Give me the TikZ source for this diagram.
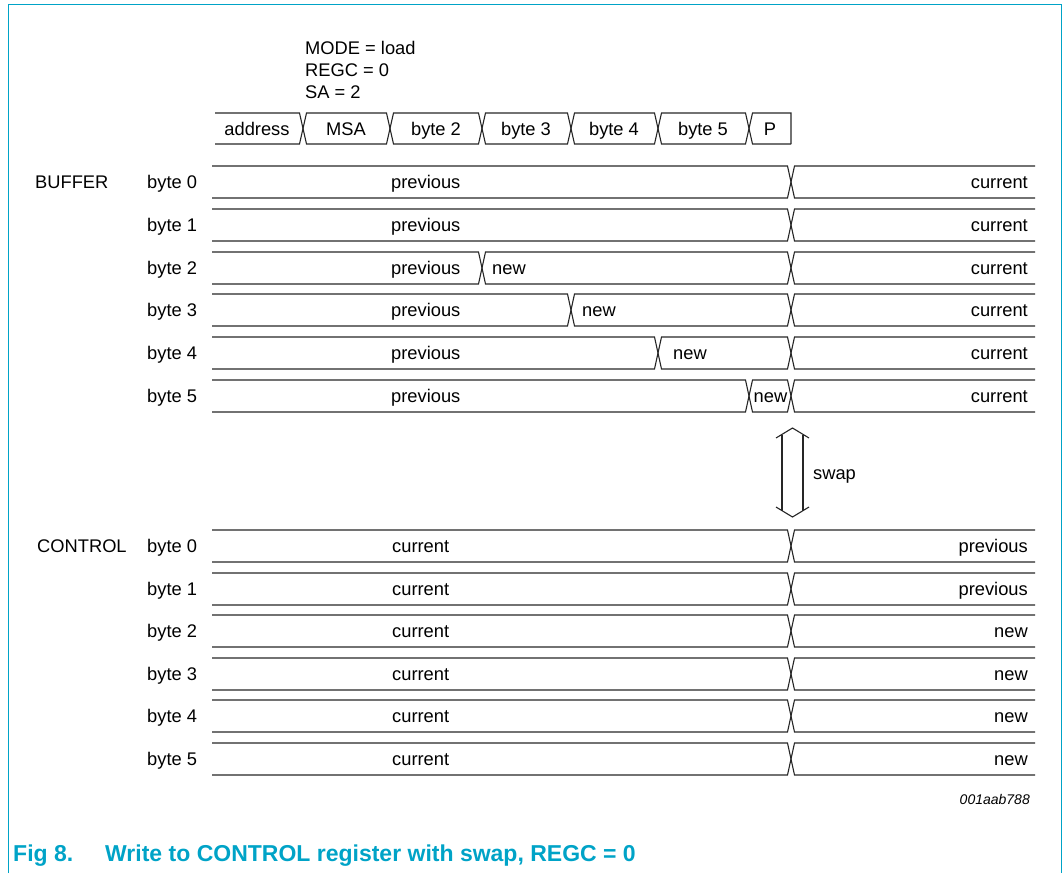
\documentclass[tikz,border=0pt]{standalone}
\usepackage{fontspec}
\setmainfont{Liberation Sans}
\usetikzlibrary{positioning, calc}

\definecolor{nxpcyan}{RGB}{0,163,199}

\begin{document}
\begin{tikzpicture}[
  x=1pt, y=-1pt, % one unit per pixel, y runs downwards
  every node/.style={draw=none, inner sep=0pt,
    font=\fontsize{18.3}{22}\selectfont,
    text height=13pt, text depth=0pt}, % caps centred on the anchor
  wave/.style={line width=1.1pt, draw=black!85, line join=miter},
  frame/.style={line width=1.5pt, draw=nxpcyan},
]
  \useasboundingbox (0,0) rectangle (1063,873);

  % frame round the figure
  \draw[frame] (8.5,873) -- (8.5,4.5) -- (1061.5,4.5) -- (1061.5,873);

  % settings
  \node[anchor=west] (mode) at (305,48) {MODE = load};
  \node[anchor=west] (regc) at (305,70) {REGC = 0};
  \node[anchor=west] (sa)   at (305,92) {SA = 2};

  % bus sequence
  \draw[wave] (215,113) -- (299.5,113) -- (306.5,144) -- (386.5,144)
    -- (393.5,113) -- (478.5,113) -- (485.5,144) -- (567.5,144)
    -- (574.5,113) -- (654.5,113) -- (661.5,144) -- (745.5,144)
    -- (752.5,113) -- (791,113) -- (791,144);
  \draw[wave] (215,144) -- (299.5,144) -- (306.5,113) -- (386.5,113)
    -- (393.5,144) -- (478.5,144) -- (485.5,113) -- (567.5,113)
    -- (574.5,144) -- (654.5,144) -- (661.5,113) -- (745.5,113)
    -- (752.5,144) -- (791,144);
  %% labels
  \node (addr) at (257,128.5) {address};
  \node (msa)  at (346,128.5) {MSA};
  \node (bus2) at (436,128.5) {byte 2};
  \node (bus3) at (526,128.5) {byte 3};
  \node (bus4) at (614,128.5) {byte 4};
  \node (bus5) at (703,128.5) {byte 5};
  \node (stop) at (770,128.5) {P};

  % BUFFER register
  \node[anchor=west] (buffer) at (35,182) {BUFFER};
  %% byte 0
  \draw[wave] (212,166) -- (787.5,166) -- (794.5,198) -- (1035,198);
  \draw[wave] (212,198) -- (787.5,198) -- (794.5,166) -- (1035,166);
  \node[anchor=west] (bb0) at (147,182) {byte 0};
  \node[anchor=west] (bb0-old) at (391,182) {previous};
  \node[anchor=east] (bb0-cur) at (1028,182) {current};
  %% byte 1
  \draw[wave] (212,209) -- (787.5,209) -- (794.5,241) -- (1035,241);
  \draw[wave] (212,241) -- (787.5,241) -- (794.5,209) -- (1035,209);
  \node[anchor=west] (bb1) at (147,225) {byte 1};
  \node[anchor=west] (bb1-old) at (391,225) {previous};
  \node[anchor=east] (bb1-cur) at (1028,225) {current};
  %% byte 2
  \draw[wave] (212,252) -- (478.5,252) -- (485.5,284) -- (787.5,284)
    -- (794.5,252) -- (1035,252);
  \draw[wave] (212,284) -- (478.5,284) -- (485.5,252) -- (787.5,252)
    -- (794.5,284) -- (1035,284);
  \node[anchor=west] (bb2) at (147,268) {byte 2};
  \node[anchor=west] (bb2-old) at (391,268) {previous};
  \node[anchor=west] (bb2-new) at (492,268) {new};
  \node[anchor=east] (bb2-cur) at (1028,268) {current};
  %% byte 3
  \draw[wave] (212,294) -- (567.5,294) -- (574.5,326) -- (787.5,326)
    -- (794.5,294) -- (1035,294);
  \draw[wave] (212,326) -- (567.5,326) -- (574.5,294) -- (787.5,294)
    -- (794.5,326) -- (1035,326);
  \node[anchor=west] (bb3) at (147,310) {byte 3};
  \node[anchor=west] (bb3-old) at (391,310) {previous};
  \node[anchor=west] (bb3-new) at (582,310) {new};
  \node[anchor=east] (bb3-cur) at (1028,310) {current};
  %% byte 4
  \draw[wave] (212,337) -- (654.5,337) -- (661.5,369) -- (787.5,369)
    -- (794.5,337) -- (1035,337);
  \draw[wave] (212,369) -- (654.5,369) -- (661.5,337) -- (787.5,337)
    -- (794.5,369) -- (1035,369);
  \node[anchor=west] (bb4) at (147,353) {byte 4};
  \node[anchor=west] (bb4-old) at (391,353) {previous};
  \node[anchor=west] (bb4-new) at (673,353) {new};
  \node[anchor=east] (bb4-cur) at (1028,353) {current};
  %% byte 5
  \draw[wave] (212,380) -- (745.5,380) -- (752.5,412) -- (787.5,412)
    -- (794.5,380) -- (1035,380);
  \draw[wave] (212,412) -- (745.5,412) -- (752.5,380) -- (787.5,380)
    -- (794.5,412) -- (1035,412);
  \node[anchor=west] (bb5) at (147,396) {byte 5};
  \node[anchor=west] (bb5-old) at (391,396) {previous};
  \node[anchor=west] (bb5-new) at (753.5,396) {new};
  \node[anchor=east] (bb5-cur) at (1028,396) {current};

  % swap arrow (hollow, double headed)
  \draw[wave] (782,434.5) -- (782,510.5);
  \draw[wave] (803,434.5) -- (803,510.5);
  \draw[wave] (776,438) -- (792.5,428) -- (809,438);
  \draw[wave] (776,507) -- (792.5,517) -- (809,507);
  \node[anchor=west] (swap) at (813,473) {swap};

  % CONTROL register
  \node[anchor=west] (control) at (37,546) {CONTROL};
  %% byte 0
  \draw[wave] (212,530) -- (787.5,530) -- (794.5,562) -- (1035,562);
  \draw[wave] (212,562) -- (787.5,562) -- (794.5,530) -- (1035,530);
  \node[anchor=west] (cb0) at (147,546) {byte 0};
  \node[anchor=west] (cb0-cur) at (392,546) {current};
  \node[anchor=east] (cb0-old) at (1028,546) {previous};
  %% byte 1
  \draw[wave] (212,573) -- (787.5,573) -- (794.5,605) -- (1035,605);
  \draw[wave] (212,605) -- (787.5,605) -- (794.5,573) -- (1035,573);
  \node[anchor=west] (cb1) at (147,589) {byte 1};
  \node[anchor=west] (cb1-cur) at (392,589) {current};
  \node[anchor=east] (cb1-old) at (1028,589) {previous};
  %% byte 2
  \draw[wave] (212,615) -- (787.5,615) -- (794.5,647) -- (1035,647);
  \draw[wave] (212,647) -- (787.5,647) -- (794.5,615) -- (1035,615);
  \node[anchor=west] (cb2) at (147,631) {byte 2};
  \node[anchor=west] (cb2-cur) at (392,631) {current};
  \node[anchor=east] (cb2-new) at (1028,631) {new};
  %% byte 3
  \draw[wave] (212,658) -- (787.5,658) -- (794.5,690) -- (1035,690);
  \draw[wave] (212,690) -- (787.5,690) -- (794.5,658) -- (1035,658);
  \node[anchor=west] (cb3) at (147,674) {byte 3};
  \node[anchor=west] (cb3-cur) at (392,674) {current};
  \node[anchor=east] (cb3-new) at (1028,674) {new};
  %% byte 4
  \draw[wave] (212,700) -- (787.5,700) -- (794.5,732) -- (1035,732);
  \draw[wave] (212,732) -- (787.5,732) -- (794.5,700) -- (1035,700);
  \node[anchor=west] (cb4) at (147,716) {byte 4};
  \node[anchor=west] (cb4-cur) at (392,716) {current};
  \node[anchor=east] (cb4-new) at (1028,716) {new};
  %% byte 5
  \draw[wave] (212,743) -- (787.5,743) -- (794.5,775) -- (1035,775);
  \draw[wave] (212,775) -- (787.5,775) -- (794.5,743) -- (1035,743);
  \node[anchor=west] (cb5) at (147,759) {byte 5};
  \node[anchor=west] (cb5-cur) at (392,759) {current};
  \node[anchor=east] (cb5-new) at (1028,759) {new};

  % figure id
  \node[anchor=east, font=\fontsize{14}{16}\selectfont\itshape,
    text height=10pt] (figid) at (1030,799) {001aab788};

  % caption
  \node[anchor=west, text=nxpcyan, font=\fontsize{23}{27}\selectfont\bfseries,
    text height=16.5pt] (figno) at (13,853) {Fig 8.};
  \node[anchor=west, text=nxpcyan, font=\fontsize{23}{27}\selectfont\bfseries,
    text height=16.5pt] (figtitle) at (105,853)
    {Write to CONTROL register with swap, REGC = 0};

\end{tikzpicture}
\end{document}
